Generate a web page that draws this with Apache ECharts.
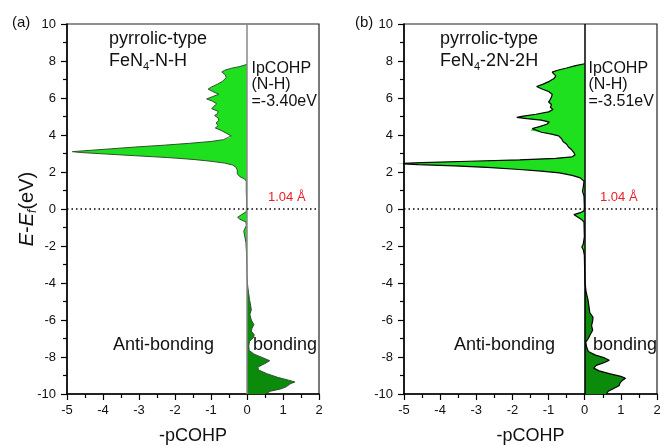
<!DOCTYPE html>
<html>
<head>
    <meta charset="utf-8">
    <title>pCOHP</title>
    <style>
        body{
            margin: 0;
            padding: 0;
        }
        #container{
            width: 660px;
            height: 445px;
        }
    </style>
</head>
<body>
    <div id="container"></div>
    <script src="https://cdn.jsdelivr.net/npm/echarts@6/dist/echarts.min.js"></script>
    <script type="text/javascript">
    // [E-Ef (eV), -pCOHP], top to bottom
    var antiA = [
        [7.82, 0], [7.7, -0.2], [7.6, -0.45], [7.5, -0.62], [7.4, -0.7], [7.25, -0.6], [7.1, -0.58],
        [6.9, -0.68], [6.75, -0.82], [6.6, -0.98], [6.48, -1.08], [6.35, -0.95], [6.2, -0.78],
        [6.08, -0.95], [5.95, -1.12], [5.82, -0.95], [5.68, -0.84], [5.55, -0.92], [5.42, -0.98],
        [5.28, -0.8], [5.15, -0.82], [5.05, -0.9], [4.92, -0.8], [4.78, -0.78], [4.65, -0.86],
        [4.5, -0.8], [4.38, -0.88], [4.25, -0.72], [4.1, -0.58], [3.95, -0.44], [3.85, -0.48],
        [3.75, -0.65], [3.65, -1.0], [3.55, -1.6], [3.45, -2.3], [3.35, -3.1], [3.25, -3.8],
        [3.15, -4.5], [3.1, -4.85], [3.05, -4.6], [2.97, -3.9], [2.88, -3.1], [2.78, -2.2],
        [2.68, -1.5], [2.58, -1.0], [2.48, -0.62], [2.38, -0.4], [2.25, -0.3], [2.1, -0.27],
        [1.9, -0.27], [1.75, -0.2], [1.62, -0.06], [1.5, -0.02], [1.0, -0.02], [0.3, -0.01],
        [-0.15, -0.02], [-0.3, -0.15], [-0.45, -0.26], [-0.55, -0.2], [-0.7, -0.03], [-0.9, -0.02],
        [-1.2, -0.09], [-1.5, -0.06], [-1.8, -0.03], [-2.5, -0.01], [-3.5, 0]
    ];
    var bondA = [
        [-3.5, 0], [-4.0, 0.01], [-4.5, 0.04], [-4.9, 0.07], [-5.2, 0.1], [-5.45, 0.12], [-5.7, 0.08],
        [-6.0, 0.12], [-6.25, 0.19], [-6.45, 0.14], [-6.6, 0.12], [-6.8, 0.2], [-6.95, 0.18],
        [-7.15, 0.07], [-7.4, 0.05], [-7.65, 0.06], [-7.85, 0.2], [-8.05, 0.45], [-8.2, 0.63],
        [-8.35, 0.5], [-8.55, 0.3], [-8.7, 0.32], [-8.9, 0.55], [-9.1, 0.85], [-9.25, 1.15],
        [-9.35, 1.33], [-9.45, 1.2], [-9.6, 1.1], [-9.72, 0.95], [-9.85, 0.65], [-10, 0.5]
    ];
    var antiB = [
        [7.85, 0], [7.75, -0.25], [7.62, -0.5], [7.5, -0.75], [7.4, -0.9], [7.3, -0.88], [7.2, -0.8],
        [7.05, -0.85], [6.9, -0.98], [6.75, -1.15], [6.62, -1.33], [6.5, -1.2], [6.35, -1.0],
        [6.2, -0.9], [6.05, -0.92], [5.9, -0.96], [5.78, -1.0], [5.65, -0.92], [5.5, -0.95],
        [5.38, -0.88], [5.25, -1.0], [5.12, -1.35], [5.02, -1.7], [4.95, -1.88], [4.88, -1.6],
        [4.8, -1.2], [4.7, -0.98], [4.58, -1.05], [4.45, -1.25], [4.35, -1.45], [4.25, -1.5],
        [4.15, -1.2], [4.05, -0.92], [3.95, -0.72], [3.8, -0.64], [3.65, -0.6], [3.5, -0.5],
        [3.35, -0.45], [3.2, -0.36], [3.05, -0.3], [2.92, -0.27], [2.82, -0.35], [2.74, -0.8],
        [2.66, -1.8], [2.58, -3.2], [2.51, -4.5], [2.46, -5.2], [2.4, -4.6], [2.33, -3.6],
        [2.25, -2.7], [2.15, -1.9], [2.05, -1.2], [1.95, -0.7], [1.82, -0.35], [1.68, -0.12],
        [1.5, -0.02], [1.2, -0.04], [0.95, -0.06], [0.7, -0.02], [0.1, -0.01], [-0.1, -0.02],
        [-0.2, -0.12], [-0.3, -0.3], [-0.4, -0.25], [-0.55, -0.1], [-0.7, -0.02], [-1.5, -0.01],
        [-1.9, -0.04], [-2.05, -0.08], [-2.2, -0.04], [-2.5, -0.01], [-3.5, 0]
    ];
    var bondB = [
        [-3.5, 0], [-4.0, 0.01], [-4.5, 0.04], [-4.9, 0.09], [-5.3, 0.12], [-5.6, 0.14], [-5.85, 0.23],
        [-6.05, 0.22], [-6.3, 0.19], [-6.55, 0.22], [-6.8, 0.15], [-7.0, 0.1], [-7.2, 0.03],
        [-7.45, 0.05], [-7.7, 0.1], [-7.9, 0.3], [-8.05, 0.55], [-8.18, 0.68], [-8.3, 0.55],
        [-8.45, 0.32], [-8.6, 0.25], [-8.75, 0.4], [-8.9, 0.68], [-9.05, 1.0], [-9.15, 1.13],
        [-9.25, 1.05], [-9.4, 0.98], [-9.55, 0.95], [-9.7, 0.8], [-9.85, 0.65], [-10, 0.6]
    ];
    var xTicks = [-5, 2, 1];   // min, max, step
    var yTicks = [-10, 10, 2];
    var bondLength = '1.04 Å';
    var ipcohp = ['-3.40', '-3.51'];
    var systems = ['N-H', '2N-2H'];

    var FONT = '"Liberation Sans", Arial, sans-serif';
    var LIGHT = '#1fe01f', DARK = '#0b8a0b';

    function toXY(arr) {
        return arr.map(function (p) { return [p[1], p[0]]; });
    }

    // filled area between the curve and -pCOHP = 0
    function fill(points, color, idx) {
        var data = toXY(points);
        return {
            type: 'custom', xAxisIndex: idx, yAxisIndex: idx, clip: false, silent: true, z: 1,
            data: data,
            renderItem: function (params, api) {
                if (params.dataIndex !== 0) return null;
                var pts = data.map(function (d) { return api.coord(d); });
                // close the shape along the zero line
                pts.unshift(api.coord([0, data[0][1]]));
                pts.push(api.coord([0, data[data.length - 1][1]]));
                return { type: 'polygon', shape: { points: pts }, style: { fill: color } };
            }
        };
    }

    function outline(idx, color, width, zeroColor) {
        return {
            type: 'line', xAxisIndex: idx, yAxisIndex: idx, symbol: 'none', clip: false, z: 3,
            silent: true, animation: false,
            data: toXY(idx === 0 ? antiA.concat(bondA) : antiB.concat(bondB)),
            lineStyle: { color: color, width: width },
            markLine: {
                symbol: 'none', silent: true, animation: false,
                label: { show: false },
                data: [
                    { xAxis: 0, lineStyle: { color: zeroColor, width: 1.5, type: 'solid' } },
                    { yAxis: 0, lineStyle: { color: '#000', width: 1.5, type: [1.5, 3] } }
                ]
            }
        };
    }

    function xAxis(idx) {
        return {
            type: 'value', gridIndex: idx, min: xTicks[0], max: xTicks[1], interval: xTicks[2],
            name: '-pCOHP', nameLocation: 'middle', nameGap: 33, nameMoveOverlap: false,
            nameTextStyle: { fontSize: 18, color: '#111', fontFamily: FONT },
            axisLine: { onZero: false, lineStyle: { color: '#000', width: 1.5 } },
            axisTick: { length: 6, lineStyle: { color: '#000', width: 1.2 } },
            minorTick: { show: true, splitNumber: 2, length: 4, lineStyle: { color: '#000', width: 1.2 } },
            splitLine: { show: false },
            axisLabel: { fontSize: 13, color: '#111', margin: 10, fontFamily: FONT, showMinLabel: true, showMaxLabel: true }
        };
    }

    function yAxis(idx) {
        var ax = {
            type: 'value', gridIndex: idx, min: yTicks[0], max: yTicks[1], interval: yTicks[2],
            axisLine: { onZero: false, lineStyle: { color: '#000', width: 1.5 } },
            axisTick: { length: 6, lineStyle: { color: '#000', width: 1.2 } },
            minorTick: { show: true, splitNumber: 2, length: 4, lineStyle: { color: '#000', width: 1.2 } },
            splitLine: { show: false },
            axisLabel: { fontSize: 13, color: '#111', margin: 11, fontFamily: FONT }
        };
        if (idx === 0) {
            ax.name = '{i|E}-{i|E}{s|f}(eV)';
            ax.nameLocation = 'middle';
            ax.nameGap = 28;
            ax.nameMoveOverlap = false;
            ax.nameTextStyle = {
                fontSize: 20, color: '#111', fontFamily: FONT, lineHeight: 24,
                rich: {
                    i: { fontStyle: 'italic', fontSize: 20, fontFamily: FONT, color: '#111', lineHeight: 24 },
                    s: { fontStyle: 'italic', fontSize: 12, fontFamily: FONT, color: '#111', lineHeight: 12, verticalAlign: 'bottom' }
                }
            };
        }
        return ax;
    }

    function txt(x, y, text, size, color, rich, lh) {
        var st = { text: text, fontSize: size, fontFamily: FONT, fill: color || '#111', verticalAlign: 'middle', align: 'left' };
        if (lh) st.lineHeight = lh;
        if (rich) st.rich = rich;
        return { type: 'text', x: x, y: y, silent: true, style: st };
    }

    var sub = {
        n: { fontSize: 18, fontFamily: FONT, fill: '#111', lineHeight: 22 },
        b: { fontSize: 11, fontFamily: FONT, fill: '#111', lineHeight: 11, verticalAlign: 'bottom' }
    };

    var chart = echarts.init(document.getElementById('container'));
    var gridBase = { top: 24, height: 370, show: true, borderColor: '#222', borderWidth: 1.2,
        backgroundColor: 'transparent', containLabel: false, outerBoundsMode: 'none' };
    var option = {
        animation: false,
        backgroundColor: '#fff',
        grid: [
            Object.assign({ left: 67, width: 252 }, gridBase),
            Object.assign({ left: 404, width: 253 }, gridBase)
        ],
        xAxis: [xAxis(0), xAxis(1)],
        yAxis: [yAxis(0), yAxis(1)],
        series: [
            fill(antiA, LIGHT, 0), fill(bondA, DARK, 0),
            fill(antiB, LIGHT, 1), fill(bondB, DARK, 1),
            outline(0, '#2f4f2f', 1, '#888'),
            outline(1, '#000', 1.2, '#000')
        ],
        graphic: [
            txt(12, 23, '(a)', 15),
            txt(355, 23, '(b)', 15),
            txt(109, 50.5, '{n|pyrrolic-type}\n{n|FeN}{b|4}{n|-' + systems[0] + '}', 18, null, sub),
            txt(440, 50.5, '{n|pyrrolic-type}\n{n|FeN}{b|4}{n|-' + systems[1] + '}', 18, null, sub),
            txt(251.5, 85, 'IpCOHP\n(N-H)\n=' + ipcohp[0] + 'eV', 16, null, null, 16.5),
            txt(588.5, 85, 'IpCOHP\n(N-H)\n=' + ipcohp[1] + 'eV', 16, null, null, 16.5),
            txt(268, 197, bondLength, 13, '#e8202a'),
            txt(600, 197, bondLength, 13, '#e8202a'),
            txt(113, 345.4, 'Anti-bonding', 18),
            txt(253, 345.4, 'bonding', 18),
            txt(454, 345.4, 'Anti-bonding', 18),
            txt(593, 345.4, 'bonding', 18)
        ]
    };
    chart.setOption(option);
    </script>
</body>
</html>
